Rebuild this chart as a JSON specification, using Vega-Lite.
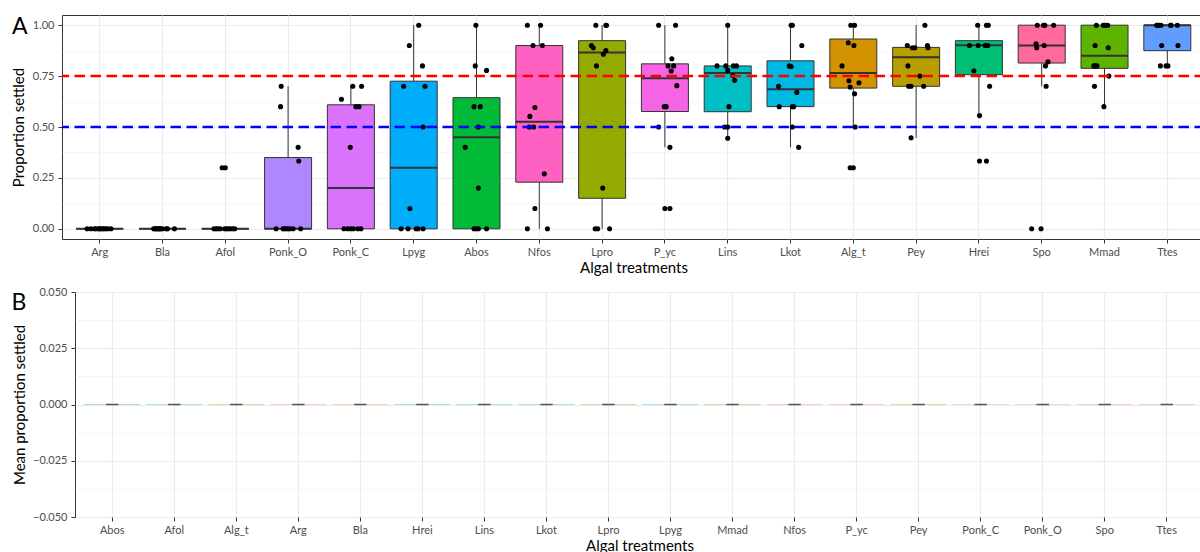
{
  "$schema": "https://vega.github.io/schema/vega-lite/v6.json",
  "background": "white",
  "padding": {"left": 4, "top": 12, "right": 0, "bottom": 0},
  "spacing": 9,
  "datasets": {
    "box": [
      {"t": "Arg", "lo": 0, "q1": 0, "md": 0, "q3": 0, "hi": 0},
      {"t": "Bla", "lo": 0, "q1": 0, "md": 0, "q3": 0, "hi": 0},
      {"t": "Afol", "lo": 0, "q1": 0, "md": 0, "q3": 0, "hi": 0},
      {"t": "Ponk_O", "lo": 0, "q1": 0, "md": 0, "q3": 0.35, "hi": 0.7},
      {"t": "Ponk_C", "lo": 0, "q1": 0, "md": 0.2, "q3": 0.609, "hi": 0.7},
      {"t": "Lpyg", "lo": 0, "q1": 0, "md": 0.3, "q3": 0.725, "hi": 1},
      {"t": "Abos", "lo": 0, "q1": 0, "md": 0.45, "q3": 0.644, "hi": 1},
      {"t": "Nfos", "lo": 0, "q1": 0.229, "md": 0.526, "q3": 0.9, "hi": 1},
      {"t": "Lpro", "lo": 0, "q1": 0.15, "md": 0.866, "q3": 0.924, "hi": 1},
      {"t": "P_yc", "lo": 0.4, "q1": 0.576, "md": 0.74, "q3": 0.81, "hi": 1},
      {"t": "Lins", "lo": 0.445, "q1": 0.575, "md": 0.765, "q3": 0.8, "hi": 1},
      {"t": "Lkot", "lo": 0.4, "q1": 0.6, "md": 0.685, "q3": 0.825, "hi": 1},
      {"t": "Alg_t", "lo": 0.5, "q1": 0.691, "md": 0.765, "q3": 0.932, "hi": 1},
      {"t": "Pey", "lo": 0.447, "q1": 0.7, "md": 0.843, "q3": 0.891, "hi": 1},
      {"t": "Hrei", "lo": 0.556, "q1": 0.757, "md": 0.902, "q3": 0.924, "hi": 1},
      {"t": "Spo", "lo": 0.7, "q1": 0.814, "md": 0.9, "q3": 1, "hi": 1},
      {"t": "Mmad", "lo": 0.6, "q1": 0.788, "md": 0.85, "q3": 1, "hi": 1},
      {"t": "Ttes", "lo": 0.8, "q1": 0.875, "md": 1, "q3": 1, "hi": 1}
    ],
    "pts": [
      {"t": "Arg", "p": 0, "j": -0.2}, {"t": "Arg", "p": 0, "j": -0.14}, {"t": "Arg", "p": 0, "j": -0.08}, {"t": "Arg", "p": 0, "j": -0.06}, {"t": "Arg", "p": 0, "j": -0.02}, {"t": "Arg", "p": 0, "j": 0.02}, {"t": "Arg", "p": 0, "j": 0.05}, {"t": "Arg", "p": 0, "j": 0.07}, {"t": "Arg", "p": 0, "j": 0.1}, {"t": "Arg", "p": 0, "j": 0.13}, {"t": "Arg", "p": 0, "j": 0.18}, {"t": "Arg", "p": 0, "j": 0},
      {"t": "Bla", "p": 0, "j": -0.14}, {"t": "Bla", "p": 0, "j": -0.12}, {"t": "Bla", "p": 0, "j": -0.1}, {"t": "Bla", "p": 0, "j": -0.09}, {"t": "Bla", "p": 0, "j": -0.07}, {"t": "Bla", "p": 0, "j": -0.05}, {"t": "Bla", "p": 0, "j": -0.04}, {"t": "Bla", "p": 0, "j": -0.03}, {"t": "Bla", "p": 0, "j": 0}, {"t": "Bla", "p": 0, "j": 0.06}, {"t": "Bla", "p": 0, "j": 0.08}, {"t": "Bla", "p": 0, "j": 0.19},
      {"t": "Afol", "p": 0, "j": -0.18}, {"t": "Afol", "p": 0, "j": -0.15}, {"t": "Afol", "p": 0, "j": -0.12}, {"t": "Afol", "p": 0, "j": -0.08}, {"t": "Afol", "p": 0, "j": -0.01}, {"t": "Afol", "p": 0, "j": 0.02}, {"t": "Afol", "p": 0, "j": 0.05}, {"t": "Afol", "p": 0, "j": 0.08}, {"t": "Afol", "p": 0, "j": 0.12}, {"t": "Afol", "p": 0, "j": 0.15}, {"t": "Afol", "p": 0.3, "j": -0.05}, {"t": "Afol", "p": 0.3, "j": 0},
      {"t": "Ponk_O", "p": 0.7, "j": -0.11}, {"t": "Ponk_O", "p": 0.6, "j": -0.12}, {"t": "Ponk_O", "p": 0.4, "j": 0.16}, {"t": "Ponk_O", "p": 0.333, "j": 0.17}, {"t": "Ponk_O", "p": 0, "j": -0.19}, {"t": "Ponk_O", "p": 0, "j": -0.08}, {"t": "Ponk_O", "p": 0, "j": -0.06}, {"t": "Ponk_O", "p": 0, "j": 0}, {"t": "Ponk_O", "p": 0, "j": 0.08}, {"t": "Ponk_O", "p": 0, "j": 0.2}, {"t": "Ponk_O", "p": 0, "j": -0.03}, {"t": "Ponk_O", "p": 0, "j": 0.03},
      {"t": "Ponk_C", "p": 0.7, "j": 0.03}, {"t": "Ponk_C", "p": 0.7, "j": 0.17}, {"t": "Ponk_C", "p": 0.636, "j": -0.15}, {"t": "Ponk_C", "p": 0.6, "j": 0.08}, {"t": "Ponk_C", "p": 0.6, "j": 0.13}, {"t": "Ponk_C", "p": 0.4, "j": -0.01}, {"t": "Ponk_C", "p": 0, "j": -0.11}, {"t": "Ponk_C", "p": 0, "j": -0.05}, {"t": "Ponk_C", "p": 0, "j": 0}, {"t": "Ponk_C", "p": 0, "j": 0.04}, {"t": "Ponk_C", "p": 0, "j": 0.11}, {"t": "Ponk_C", "p": 0, "j": 0.16},
      {"t": "Lpyg", "p": 1, "j": 0.08}, {"t": "Lpyg", "p": 0.9, "j": -0.07}, {"t": "Lpyg", "p": 0.8, "j": 0.14}, {"t": "Lpyg", "p": 0.7, "j": -0.16}, {"t": "Lpyg", "p": 0.7, "j": 0.18}, {"t": "Lpyg", "p": 0.5, "j": 0.15}, {"t": "Lpyg", "p": 0.1, "j": -0.06}, {"t": "Lpyg", "p": 0, "j": -0.2}, {"t": "Lpyg", "p": 0, "j": -0.09}, {"t": "Lpyg", "p": 0, "j": 0.04}, {"t": "Lpyg", "p": 0, "j": 0.07}, {"t": "Lpyg", "p": 0, "j": 0.15},
      {"t": "Abos", "p": 1, "j": -0.01}, {"t": "Abos", "p": 0.8, "j": -0.02}, {"t": "Abos", "p": 0.778, "j": 0.16}, {"t": "Abos", "p": 0.6, "j": -0.04}, {"t": "Abos", "p": 0.6, "j": 0.06}, {"t": "Abos", "p": 0.5, "j": 0.03}, {"t": "Abos", "p": 0.4, "j": -0.18}, {"t": "Abos", "p": 0.2, "j": 0.03}, {"t": "Abos", "p": 0, "j": -0.04}, {"t": "Abos", "p": 0, "j": -0.01}, {"t": "Abos", "p": 0, "j": 0.03}, {"t": "Abos", "p": 0, "j": 0.16},
      {"t": "Nfos", "p": 1, "j": -0.19}, {"t": "Nfos", "p": 1, "j": 0.02}, {"t": "Nfos", "p": 0.9, "j": -0.1}, {"t": "Nfos", "p": 0.9, "j": 0.05}, {"t": "Nfos", "p": 0.596, "j": -0.07}, {"t": "Nfos", "p": 0.552, "j": -0.15}, {"t": "Nfos", "p": 0.5, "j": -0.16}, {"t": "Nfos", "p": 0.5, "j": -0.09}, {"t": "Nfos", "p": 0.27, "j": 0.08}, {"t": "Nfos", "p": 0.1, "j": -0.07}, {"t": "Nfos", "p": 0, "j": -0.19}, {"t": "Nfos", "p": 0, "j": 0.13},
      {"t": "Lpro", "p": 1, "j": -0.1}, {"t": "Lpro", "p": 1, "j": 0.07}, {"t": "Lpro", "p": 1, "j": 0.06}, {"t": "Lpro", "p": 0.9, "j": -0.17}, {"t": "Lpro", "p": 0.889, "j": -0.14}, {"t": "Lpro", "p": 0.875, "j": 0.06}, {"t": "Lpro", "p": 0.857, "j": 0.02}, {"t": "Lpro", "p": 0.8, "j": -0.09}, {"t": "Lpro", "p": 0.2, "j": 0.01}, {"t": "Lpro", "p": 0, "j": -0.11}, {"t": "Lpro", "p": 0, "j": -0.07}, {"t": "Lpro", "p": 0, "j": 0.12},
      {"t": "P_yc", "p": 1, "j": -0.1}, {"t": "P_yc", "p": 1, "j": 0.17}, {"t": "P_yc", "p": 0.835, "j": 0.11}, {"t": "P_yc", "p": 0.8, "j": 0.05}, {"t": "P_yc", "p": 0.8, "j": 0.14}, {"t": "P_yc", "p": 0.775, "j": 0.1}, {"t": "P_yc", "p": 0.703, "j": 0.19}, {"t": "P_yc", "p": 0.6, "j": -0.01}, {"t": "P_yc", "p": 0.6, "j": 0.02}, {"t": "P_yc", "p": 0.5, "j": -0.1}, {"t": "P_yc", "p": 0.4, "j": 0.08}, {"t": "P_yc", "p": 0.1, "j": 0}, {"t": "P_yc", "p": 0.1, "j": 0.08},
      {"t": "Lins", "p": 1, "j": 0}, {"t": "Lins", "p": 0.8, "j": -0.17}, {"t": "Lins", "p": 0.8, "j": -0.03}, {"t": "Lins", "p": 0.8, "j": 0.09}, {"t": "Lins", "p": 0.8, "j": 0.14}, {"t": "Lins", "p": 0.778, "j": 0}, {"t": "Lins", "p": 0.753, "j": 0.08}, {"t": "Lins", "p": 0.729, "j": 0.11}, {"t": "Lins", "p": 0.6, "j": 0.02}, {"t": "Lins", "p": 0.5, "j": -0.05}, {"t": "Lins", "p": 0.5, "j": 0}, {"t": "Lins", "p": 0.445, "j": 0},
      {"t": "Lkot", "p": 1, "j": 0.01}, {"t": "Lkot", "p": 1, "j": 0.03}, {"t": "Lkot", "p": 0.9, "j": 0.18}, {"t": "Lkot", "p": 0.8, "j": -0.02}, {"t": "Lkot", "p": 0.797, "j": 0.01}, {"t": "Lkot", "p": 0.7, "j": -0.19}, {"t": "Lkot", "p": 0.67, "j": 0.1}, {"t": "Lkot", "p": 0.6, "j": -0.18}, {"t": "Lkot", "p": 0.6, "j": 0.05}, {"t": "Lkot", "p": 0.6, "j": 0.03}, {"t": "Lkot", "p": 0.5, "j": 0.03}, {"t": "Lkot", "p": 0.4, "j": 0.13},
      {"t": "Alg_t", "p": 1, "j": -0.04}, {"t": "Alg_t", "p": 1, "j": 0.02}, {"t": "Alg_t", "p": 0.914, "j": -0.08}, {"t": "Alg_t", "p": 0.9, "j": 0.01}, {"t": "Alg_t", "p": 0.8, "j": -0.18}, {"t": "Alg_t", "p": 0.727, "j": -0.07}, {"t": "Alg_t", "p": 0.717, "j": 0.09}, {"t": "Alg_t", "p": 0.696, "j": -0.05}, {"t": "Alg_t", "p": 0.663, "j": 0.02}, {"t": "Alg_t", "p": 0.5, "j": 0.03}, {"t": "Alg_t", "p": 0.3, "j": -0.05}, {"t": "Alg_t", "p": 0.3, "j": 0},
      {"t": "Pey", "p": 1, "j": 0.14}, {"t": "Pey", "p": 0.9, "j": -0.14}, {"t": "Pey", "p": 0.889, "j": -0.06}, {"t": "Pey", "p": 0.889, "j": -0.02}, {"t": "Pey", "p": 0.9, "j": 0.18}, {"t": "Pey", "p": 0.889, "j": 0.19}, {"t": "Pey", "p": 0.8, "j": -0.13}, {"t": "Pey", "p": 0.75, "j": 0.06}, {"t": "Pey", "p": 0.7, "j": -0.12}, {"t": "Pey", "p": 0.7, "j": -0.08}, {"t": "Pey", "p": 0.7, "j": 0.12}, {"t": "Pey", "p": 0.447, "j": -0.08},
      {"t": "Hrei", "p": 1, "j": -0.02}, {"t": "Hrei", "p": 1, "j": 0.12}, {"t": "Hrei", "p": 1, "j": 0.15}, {"t": "Hrei", "p": 0.9, "j": -0.15}, {"t": "Hrei", "p": 0.9, "j": -0.01}, {"t": "Hrei", "p": 0.9, "j": 0.1}, {"t": "Hrei", "p": 0.9, "j": 0.14}, {"t": "Hrei", "p": 0.776, "j": -0.08}, {"t": "Hrei", "p": 0.7, "j": 0.17}, {"t": "Hrei", "p": 0.556, "j": 0.01}, {"t": "Hrei", "p": 0.333, "j": 0.01}, {"t": "Hrei", "p": 0.333, "j": 0.12},
      {"t": "Spo", "p": 1, "j": -0.07}, {"t": "Spo", "p": 1, "j": 0.03}, {"t": "Spo", "p": 1, "j": 0.05}, {"t": "Spo", "p": 1, "j": 0.19}, {"t": "Spo", "p": 0.909, "j": -0.09}, {"t": "Spo", "p": 0.889, "j": -0.08}, {"t": "Spo", "p": 0.9, "j": 0.04}, {"t": "Spo", "p": 0.82, "j": 0.1}, {"t": "Spo", "p": 0.8, "j": 0.06}, {"t": "Spo", "p": 0.7, "j": 0.07}, {"t": "Spo", "p": 0, "j": -0.16}, {"t": "Spo", "p": 0, "j": -0.01},
      {"t": "Mmad", "p": 1, "j": -0.13}, {"t": "Mmad", "p": 1, "j": -0.02}, {"t": "Mmad", "p": 1, "j": 0.01}, {"t": "Mmad", "p": 1, "j": 0.05}, {"t": "Mmad", "p": 0.9, "j": -0.15}, {"t": "Mmad", "p": 0.889, "j": 0.06}, {"t": "Mmad", "p": 0.8, "j": -0.17}, {"t": "Mmad", "p": 0.8, "j": -0.15}, {"t": "Mmad", "p": 0.8, "j": -0.12}, {"t": "Mmad", "p": 0.75, "j": 0.07}, {"t": "Mmad", "p": 0.7, "j": -0.16}, {"t": "Mmad", "p": 0.6, "j": -0.01},
      {"t": "Ttes", "p": 1, "j": -0.17}, {"t": "Ttes", "p": 1, "j": -0.15}, {"t": "Ttes", "p": 1, "j": -0.13}, {"t": "Ttes", "p": 1, "j": -0.1}, {"t": "Ttes", "p": 1, "j": 0.05}, {"t": "Ttes", "p": 1, "j": 0.06}, {"t": "Ttes", "p": 1, "j": 0.16}, {"t": "Ttes", "p": 0.9, "j": -0.09}, {"t": "Ttes", "p": 0.9, "j": 0.17}, {"t": "Ttes", "p": 0.8, "j": -0.11}, {"t": "Ttes", "p": 0.8, "j": -0.02}, {"t": "Ttes", "p": 0.8, "j": 0.01}
    ],
    "meanB": [
      {"t": "Abos", "m": 0}, {"t": "Afol", "m": 0}, {"t": "Alg_t", "m": 0}, {"t": "Arg", "m": 0}, {"t": "Bla", "m": 0}, {"t": "Hrei", "m": 0}, {"t": "Lins", "m": 0}, {"t": "Lkot", "m": 0}, {"t": "Lpro", "m": 0}, {"t": "Lpyg", "m": 0}, {"t": "Mmad", "m": 0}, {"t": "Nfos", "m": 0}, {"t": "P_yc", "m": 0}, {"t": "Pey", "m": 0}, {"t": "Ponk_C", "m": 0}, {"t": "Ponk_O", "m": 0}, {"t": "Spo", "m": 0}, {"t": "Ttes", "m": 0}
    ],
    "blank": [{"a": 0}]
  },
  "vconcat": [
    {
      "spacing": 0,
      "hconcat": [
        {"width": 1, "height": 1, "view": {"stroke": null}, "data": {"name": "blank"}, "mark": {"type": "point", "opacity": 0}, "encoding": {}},
        {
          "width": 1143,
          "height": 224,
          "title": {"text": "A", "orient": "none", "anchor": "start", "align": "left", "fontSize": 23, "fontWeight": "normal", "font": "Lato", "color": "#000000", "dx": -50, "dy": 19, "baseline": "alphabetic"},
          "layer": [
            {
              "data": {"name": "box"},
              "mark": {"type": "rule", "color": "#333333", "strokeWidth": 1},
              "encoding": {
                "x": {"field": "t", "type": "nominal", "sort": ["Arg", "Bla", "Afol", "Ponk_O", "Ponk_C", "Lpyg", "Abos", "Nfos", "Lpro", "P_yc", "Lins", "Lkot", "Alg_t", "Pey", "Hrei", "Spo", "Mmad", "Ttes"], "scale": {"paddingInner": 0, "paddingOuter": 0.1}, "axis": {"title": "Algal treatments", "labelAngle": 0, "grid": true, "bandPosition": 0.5, "labelPadding": 3, "titlePadding": 3}},
                "y": {"field": "lo", "type": "quantitative", "scale": {"domain": [-0.05, 1.05], "nice": false, "zero": false}, "axis": {"orient": "left", "values": [0, 0.25, 0.5, 0.75, 1], "format": ".2f", "title": "Proportion settled", "grid": true, "labelPadding": 4, "titlePadding": 5.5}},
                "y2": {"field": "hi"}
              }
            },
            {
              "data": {"name": "box"},
              "mark": {"type": "bar", "size": 47, "stroke": "#333333", "strokeWidth": 1},
              "encoding": {
                "x": {"field": "t", "type": "nominal", "sort": ["Arg", "Bla", "Afol", "Ponk_O", "Ponk_C", "Lpyg", "Abos", "Nfos", "Lpro", "P_yc", "Lins", "Lkot", "Alg_t", "Pey", "Hrei", "Spo", "Mmad", "Ttes"], "scale": {"paddingInner": 0, "paddingOuter": 0.1}, "axis": {"title": "Algal treatments", "labelAngle": 0, "grid": true, "bandPosition": 0.5, "labelPadding": 3, "titlePadding": 3}},
                "y": {"field": "q1", "type": "quantitative", "scale": {"domain": [-0.05, 1.05], "nice": false, "zero": false}, "axis": null},
                "y2": {"field": "q3"},
                "color": {"field": "t", "type": "nominal", "legend": null, "scale": {"domain": ["Arg", "Bla", "Afol", "Ponk_O", "Ponk_C", "Lpyg", "Abos", "Nfos", "Lpro", "P_yc", "Lins", "Lkot", "Alg_t", "Pey", "Hrei", "Spo", "Mmad", "Ttes"], "range": ["#F8766D", "#E88526", "#00C19F", "#AE87FF", "#DB72FB", "#00ADFA", "#00BA38", "#FF61C3", "#93AA00", "#F564E3", "#00BFC4", "#00B9E3", "#D39200", "#B79F00", "#00BF74", "#FF699C", "#5EB300", "#619CFF"]}}
              }
            },
            {
              "data": {"name": "box"},
              "mark": {"type": "bar", "size": 47, "fillOpacity": 0, "stroke": "#333333", "strokeWidth": 2},
              "encoding": {
                "x": {"field": "t", "type": "nominal", "sort": ["Arg", "Bla", "Afol", "Ponk_O", "Ponk_C", "Lpyg", "Abos", "Nfos", "Lpro", "P_yc", "Lins", "Lkot", "Alg_t", "Pey", "Hrei", "Spo", "Mmad", "Ttes"], "scale": {"paddingInner": 0, "paddingOuter": 0.1}, "axis": {"title": "Algal treatments", "labelAngle": 0, "grid": true, "bandPosition": 0.5, "labelPadding": 3, "titlePadding": 3}},
                "y": {"field": "md", "type": "quantitative", "scale": {"domain": [-0.05, 1.05], "nice": false, "zero": false}, "axis": null},
                "y2": {"field": "md"}
              }
            },
            {
              "data": {"name": "pts"},
              "mark": {"type": "circle", "size": 26, "color": "#000000", "opacity": 1},
              "encoding": {
                "x": {"field": "t", "type": "nominal", "sort": ["Arg", "Bla", "Afol", "Ponk_O", "Ponk_C", "Lpyg", "Abos", "Nfos", "Lpro", "P_yc", "Lins", "Lkot", "Alg_t", "Pey", "Hrei", "Spo", "Mmad", "Ttes"], "scale": {"paddingInner": 0, "paddingOuter": 0.1}, "axis": {"title": "Algal treatments", "labelAngle": 0, "grid": true, "bandPosition": 0.5, "labelPadding": 3, "titlePadding": 3}},
                "xOffset": {"field": "j", "type": "quantitative", "scale": {"domain": [-0.5, 0.5]}},
                "y": {"field": "p", "type": "quantitative", "scale": {"domain": [-0.05, 1.05], "nice": false, "zero": false}, "axis": null}
              }
            },
            {
              "data": {"values": [{"v": 0.75}]},
              "mark": {"type": "rule", "color": "#FF0000", "strokeWidth": 2.5, "strokeDash": [10.5, 5.5]},
              "encoding": {
                "y": {"field": "v", "type": "quantitative", "scale": {"domain": [-0.05, 1.05], "nice": false, "zero": false}, "axis": {"orient": "right", "values": [0.125, 0.375, 0.625, 0.875], "grid": true, "gridColor": "#F2F2F2", "gridWidth": 0.6, "labels": false, "ticks": false, "domain": false, "title": null}}
              }
            },
            {
              "data": {"values": [{"v": 0.5}]},
              "mark": {"type": "rule", "color": "#0000FF", "strokeWidth": 2.5, "strokeDash": [10.5, 5.5]},
              "encoding": {
                "y": {"field": "v", "type": "quantitative", "scale": {"domain": [-0.05, 1.05], "nice": false, "zero": false}, "axis": null}
              }
            }
          ],
          "resolve": {"axis": {"y": "independent"}}
        }
      ]
    },
    {
      "spacing": 0,
      "hconcat": [
        {"width": 1, "height": 1, "view": {"stroke": null}, "data": {"name": "blank"}, "mark": {"type": "point", "opacity": 0}, "encoding": {}},
        {
          "width": 1129,
          "height": 225,
          "title": {"text": "B", "orient": "none", "anchor": "start", "align": "left", "fontSize": 23, "fontWeight": "normal", "font": "Lato", "color": "#000000", "dx": -63.5, "dy": 17.6, "baseline": "alphabetic"},
          "data": {"name": "meanB"},
          "layer": [
            {
              "mark": {"type": "bar", "size": 56, "fillOpacity": 0, "strokeWidth": 1, "strokeOpacity": 0.2},
              "encoding": {
                "x": {"field": "t", "type": "nominal", "sort": ["Abos", "Afol", "Alg_t", "Arg", "Bla", "Hrei", "Lins", "Lkot", "Lpro", "Lpyg", "Mmad", "Nfos", "P_yc", "Pey", "Ponk_C", "Ponk_O", "Spo", "Ttes"], "scale": {"paddingInner": 0, "paddingOuter": 0.1}, "axis": {"title": "Algal treatments", "labelAngle": 0, "grid": true, "bandPosition": 0.5, "labelPadding": 3, "titlePadding": 3}},
                "y": {"field": "m", "type": "quantitative", "scale": {"domain": [-0.05, 0.05], "nice": false, "zero": false}, "axis": {"orient": "left", "values": [-0.05, -0.025, 0, 0.025, 0.05], "format": ".3f", "title": "Mean proportion settled", "grid": true, "labelPadding": 4, "titlePadding": 5.5}},
                "y2": {"field": "m"},
                "stroke": {"field": "t", "type": "nominal", "legend": null, "scale": {"domain": ["Arg", "Bla", "Afol", "Ponk_O", "Ponk_C", "Lpyg", "Abos", "Nfos", "Lpro", "P_yc", "Lins", "Lkot", "Alg_t", "Pey", "Hrei", "Spo", "Mmad", "Ttes"], "range": ["#F8766D", "#E88526", "#00C19F", "#AE87FF", "#DB72FB", "#00ADFA", "#00BA38", "#FF61C3", "#93AA00", "#F564E3", "#00BFC4", "#00B9E3", "#D39200", "#B79F00", "#00BF74", "#FF699C", "#5EB300", "#619CFF"]}}
              }
            },
            {
              "mark": {"type": "bar", "size": 12.4, "fillOpacity": 0, "stroke": "#555555", "strokeWidth": 1.6},
              "encoding": {
                "x": {"field": "t", "type": "nominal", "sort": ["Abos", "Afol", "Alg_t", "Arg", "Bla", "Hrei", "Lins", "Lkot", "Lpro", "Lpyg", "Mmad", "Nfos", "P_yc", "Pey", "Ponk_C", "Ponk_O", "Spo", "Ttes"], "scale": {"paddingInner": 0, "paddingOuter": 0.1}, "axis": {"title": "Algal treatments", "labelAngle": 0, "grid": true, "bandPosition": 0.5, "labelPadding": 3, "titlePadding": 3}},
                "y": {"field": "m", "type": "quantitative", "scale": {"domain": [-0.05, 0.05], "nice": false, "zero": false}, "axis": {"orient": "right", "values": [-0.0375, -0.0125, 0.0125, 0.0375], "grid": true, "gridColor": "#F2F2F2", "gridWidth": 0.6, "labels": false, "ticks": false, "domain": false, "title": null}},
                "y2": {"field": "m"}
              }
            }
          ],
          "resolve": {"axis": {"y": "independent"}}
        }
      ]
    }
  ],
  "config": {
    "font": "Lato",
    "view": {"stroke": "#333333", "strokeWidth": 1},
    "axis": {
      "labelFont": "Lato",
      "labelFontSize": 11,
      "labelColor": "#4D4D4D",
      "titleFont": "Lato",
      "titleFontSize": 15,
      "titleFontWeight": "normal",
      "titleColor": "#000000",
      "tickColor": "#333333",
      "tickSize": 4,
      "domain": false,
      "gridColor": "#EBEBEB",
      "gridWidth": 1.1
    }
  }
}
